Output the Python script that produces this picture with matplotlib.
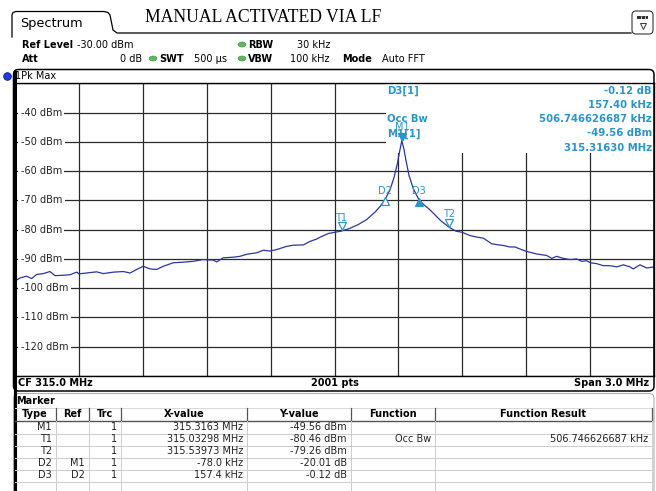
import matplotlib
matplotlib.use("Agg")
import matplotlib.pyplot as plt
from matplotlib.patches import FancyBboxPatch, Rectangle, Ellipse
from matplotlib.transforms import offset_copy

W, H = 656, 491

# trace (MHz, dBm)
freq_mhz = [313.500, 313.523, 313.555, 313.578, 313.602, 313.633, 313.664, 313.688,
            313.719, 313.758, 313.790, 313.800, 313.836, 313.883, 313.915, 313.962,
            314.009, 314.040, 314.071, 314.102, 314.134, 314.165, 314.196, 314.243,
            314.290, 314.337, 314.384, 314.431, 314.447, 314.478, 314.525, 314.556,
            314.588, 314.635, 314.666, 314.697, 314.728, 314.775, 314.807, 314.854,
            314.885, 314.916, 314.940, 314.971, 315.000, 315.033, 315.070, 315.110,
            315.150, 315.190, 315.215, 315.238, 315.260, 315.280, 315.295, 315.305,
            315.316, 315.326, 315.336, 315.350, 315.370, 315.396, 315.420, 315.445,
            315.470, 315.500, 315.540, 315.570, 315.600, 315.636, 315.667, 315.699,
            315.738, 315.761, 315.793, 315.824, 315.847, 315.871, 315.901, 315.949,
            315.996, 316.020, 316.043, 316.074, 316.106, 316.137, 316.160, 316.184,
            316.201, 316.231, 316.262, 316.293, 316.325, 316.356, 316.387, 316.403,
            316.434, 316.466, 316.500]
level_dbm = [-97.6, -96.5, -95.9, -96.7, -95.3, -95.0, -94.3, -95.7,
             -95.6, -95.4, -94.5, -95.1, -94.8, -94.4, -95.0, -94.5,
             -94.3, -94.8, -93.6, -92.5, -93.4, -93.6, -92.5, -91.3,
             -91.1, -90.8, -90.2, -90.4, -91.0, -89.6, -89.4, -89.1,
             -88.4, -87.9, -87.0, -87.3, -86.8, -85.7, -85.3, -85.2,
             -84.0, -83.2, -82.3, -81.3, -80.9, -80.46, -79.6, -78.3,
             -76.6, -74.0, -72.0, -69.57, -66.5, -62.0, -57.5, -53.5,
             -49.56, -52.5, -56.5, -61.5, -66.0, -69.69, -71.5, -73.0,
             -74.8, -77.0, -79.26, -80.5, -80.9, -82.0, -82.5, -82.9,
             -84.8, -85.1, -85.4, -85.9, -85.9, -86.6, -87.4, -88.3,
             -88.8, -89.8, -89.1, -89.8, -90.2, -90.0, -90.8, -90.6,
             -91.3, -91.6, -92.3, -92.3, -92.7, -92.0, -92.7, -93.4,
             -92.0, -93.1, -92.7]

y_levels = [-40, -50, -60, -70, -80, -90, -100, -110, -120]
y_labels = ["-40 dBm", "-50 dBm", "-60 dBm", "-70 dBm", "-80 dBm", "-90 dBm",
            "-100 dBm", "-110 dBm", "-120 dBm"]

# name, MHz, dBm, symbol, filled
mk_names = ["M1", "T1", "T2", "D2", "D3"]
mk_freq = [315.3163, 315.03298, 315.53973, 315.2383, 315.3957]
mk_level = [-49.56, -80.46, -79.26, -69.57, -69.69]
mk_symbol = ["v", "v", "v", "^", "^"]
mk_filled = [True, False, False, False, True]

readout_left = ["D3[1]", "", "Occ Bw", "M1[1]", ""]
readout_right = ["-0.12 dB", "157.40 kHz", "506.746626687 kHz", "-49.56 dBm", "315.31630 MHz"]

table_cols = ["Type", "Ref", "Trc", "X-value", "Y-value", "Function", "Function Result"]
table_rows = [
    ["M1", "", "1", "315.3163 MHz", "-49.56 dBm", "", ""],
    ["T1", "", "1", "315.03298 MHz", "-80.46 dBm", "Occ Bw", "506.746626687 kHz"],
    ["T2", "", "1", "315.53973 MHz", "-79.26 dBm", "", ""],
    ["D2", "M1", "1", "-78.0 kHz", "-20.01 dB", "", ""],
    ["D3", "D2", "1", "157.4 kHz", "-0.12 dB", "", ""],
]

BLUE_TXT = "#2b94c9"
TRACE = "#2a37a0"

fig = plt.figure(figsize=(W / 100, H / 100), dpi=100)
fig.patch.set_facecolor("white")

# ---- spectrum plot ----
top_px, bot_px, left_px, right_px = 83.4, 376, 15, 654
ax = fig.add_axes([left_px / W, 1 - bot_px / H, (right_px - left_px) / W, (bot_px - top_px) / H])
ax.set_xlim(313.5, 316.5)
ax.set_ylim(-130, -30)
ax.set_xticks([313.5 + 0.3 * i for i in range(11)])
ax.set_yticks(list(range(-130, -29, 10)))
ax.tick_params(length=0, labelleft=False, labelbottom=False)
ax.set_axisbelow(True)
ax.grid(True, color="#2a2a2a", lw=0.9)
for s in ax.spines.values():
    s.set_color("black")
    s.set_linewidth(1.0)
ax.spines["left"].set_visible(False)

for lvl, lab in zip(y_levels, y_labels):
    ax.text(0.009, lvl, lab, transform=ax.get_yaxis_transform(), ha="left", va="center",
            fontsize=7, color="#222222", zorder=2,
            bbox=dict(boxstyle="square,pad=0.25", fc="white", ec="none"))

# white area behind the marker readout
bx0 = (386 - left_px) / (right_px - left_px)
by0 = (bot_px - 153) / (bot_px - top_px)
ax.add_patch(Rectangle((bx0, by0), 1 - bx0, 1 - by0, transform=ax.transAxes,
                       fc="white", ec="none", zorder=1))

ax.plot(freq_mhz, level_dbm, color=TRACE, lw=0.9, zorder=3)

for name, f, lv, sym, filled in zip(mk_names, mk_freq, mk_level, mk_symbol, mk_filled):
    dy = 2.5 if sym == "v" else -1.5
    if name != "M1" and sym == "v":
        dy = 3.4
    tr = offset_copy(ax.transData, fig=fig, x=0, y=dy, units="points")
    ax.plot(f, lv, sym, transform=tr, ms=5.5, mec=BLUE_TXT, mew=0.9,
            mfc=BLUE_TXT if filled else "white", zorder=4)
    lab_dy = 9.5 if sym == "v" else 6
    ax.annotate(name, (f, lv), xytext=(0, lab_dy), textcoords="offset points",
                ha="center", va="center", fontsize=7, color=BLUE_TXT, zorder=4)

# ---- overlay in pixel coordinates for the screen chrome ----
ov = fig.add_axes([0, 0, 1, 1], zorder=5)
ov.set_xlim(0, W)
ov.set_ylim(H, 0)
ov.axis("off")
ov.patch.set_alpha(0)

# tab
ov.plot([12, 12, 13, 16, 104, 108, 110, 113, 117, 631],
        [37, 15, 12.5, 11.5, 11.5, 12.5, 15, 30, 33, 33], color="black", lw=0.9)
ov.text(20, 23.5, "Spectrum", fontsize=9.3, ha="left", va="center")
ov.text(263, 17, "MANUAL ACTIVATED VIA LF", family="Liberation Serif", fontsize=12.7,
        ha="center", va="center")
ov.add_patch(FancyBboxPatch((632, 11), 21, 23, boxstyle="round,pad=0,rounding_size=4",
                            ec="#333333", fc="white", lw=0.8))
ov.add_patch(Rectangle((637, 15.5), 11, 3.5, fc="#333333", ec="none"))
for xx in (640.5, 644.5):
    ov.plot([xx, xx], [15.5, 19], color="white", lw=0.5)
ov.plot(642.5, 25.5, "v", ms=5, mfc="white", mec="#333333", mew=0.7)

# header settings
r1, r2 = 44.5, 58.5
ov.text(22, r1, "Ref Level", fontsize=7, weight="bold", va="center")
ov.text(77, r1, "-30.00 dBm", fontsize=7, va="center")
ov.text(22, r2, "Att", fontsize=7, weight="bold", va="center")
ov.text(142, r2, "0 dB", fontsize=7, va="center", ha="right")
for cx, cy in [(153, r2), (242, r1), (242, r2)]:
    ov.add_patch(Ellipse((cx, cy), 8, 5, fc="#5cb85c", ec="#3f8f3f", lw=0.4))
ov.text(159, r2, "SWT", fontsize=7, weight="bold", va="center")
ov.text(194, r2, "500 µs", fontsize=7, va="center")
ov.text(248, r1, "RBW", fontsize=7, weight="bold", va="center")
ov.text(330, r1, "30 kHz", fontsize=7, va="center", ha="right")
ov.text(248, r2, "VBW", fontsize=7, weight="bold", va="center")
ov.text(330, r2, "100 kHz", fontsize=7, va="center", ha="right")
ov.text(342, r2, "Mode", fontsize=7, weight="bold", va="center")
ov.text(382, r2, "Auto FFT", fontsize=7, va="center")

# trace window frame
ov.add_patch(FancyBboxPatch((13.5, 69.5), 640.5, 321.5, boxstyle="round,pad=0,rounding_size=5",
                            ec="black", fc="none", lw=1.1))
ov.plot([14.5, 14.5], [72, H], color="black", lw=2.2)
ov.plot(7, 76, "o", ms=5.5, mfc="#1f3ee0", mec="#0a1a80", mew=0.6)
ov.text(15, 76, "1Pk Max", fontsize=7, va="center")

# marker readout
for i, (lt, rt) in enumerate(zip(readout_left, readout_right)):
    yy = 90.7 + i * 14.25
    if lt:
        ov.text(387, yy, lt, fontsize=7.3, weight="bold", color=BLUE_TXT, va="center")
    ov.text(652, yy, rt, fontsize=7.3, weight="bold", color=BLUE_TXT, va="center", ha="right")

# bottom bar
ov.text(18, 383.5, "CF 315.0 MHz", fontsize=7, weight="bold", va="center")
ov.text(335, 383.5, "2001 pts", fontsize=7, weight="bold", va="center", ha="center")
ov.text(649, 383.5, "Span 3.0 MHz", fontsize=7, weight="bold", va="center", ha="right")

# marker table
ov.add_patch(FancyBboxPatch((13.5, 393.5), 640.5, 130, boxstyle="round,pad=0,rounding_size=5",
                            ec="#b0b0b0", fc="none", lw=0.8))
ov.plot([14.5, 14.5], [390, H], color="black", lw=2.2)
ov.text(16, 400.5, "Marker", fontsize=7, weight="bold", va="center")

edges = [14, 56, 89, 121, 247, 351, 435, 652]
head_y, head_bot = 414, 421
row_y0, row_h = 427.5, 12
ov.plot([15, 652], [407.5, 407.5], color="#d8d8d8", lw=0.7)
ov.plot([15, 652], [head_bot, head_bot], color="#555555", lw=1.0)
for e in edges[1:]:
    ov.plot([e, e], [408, head_bot], color="#555555", lw=0.9)
    ov.plot([e, e], [head_bot, H], color="#cccccc", lw=0.7)
for i in range(len(table_rows)):
    yl = row_y0 + row_h * i + row_h / 2
    ov.plot([15, 652], [yl, yl], color="#cccccc", lw=0.7)

for j, c in enumerate(table_cols):
    ov.text((edges[j] + edges[j + 1]) / 2, head_y, c, fontsize=7, weight="bold",
            ha="center", va="center")
for i, row in enumerate(table_rows):
    yy = row_y0 + row_h * i
    for j, val in enumerate(row):
        if val:
            ov.text(edges[j + 1] - 4, yy, val, fontsize=7, ha="right", va="center",
                    color="#222222")

fig.savefig("out.png", dpi=100)
